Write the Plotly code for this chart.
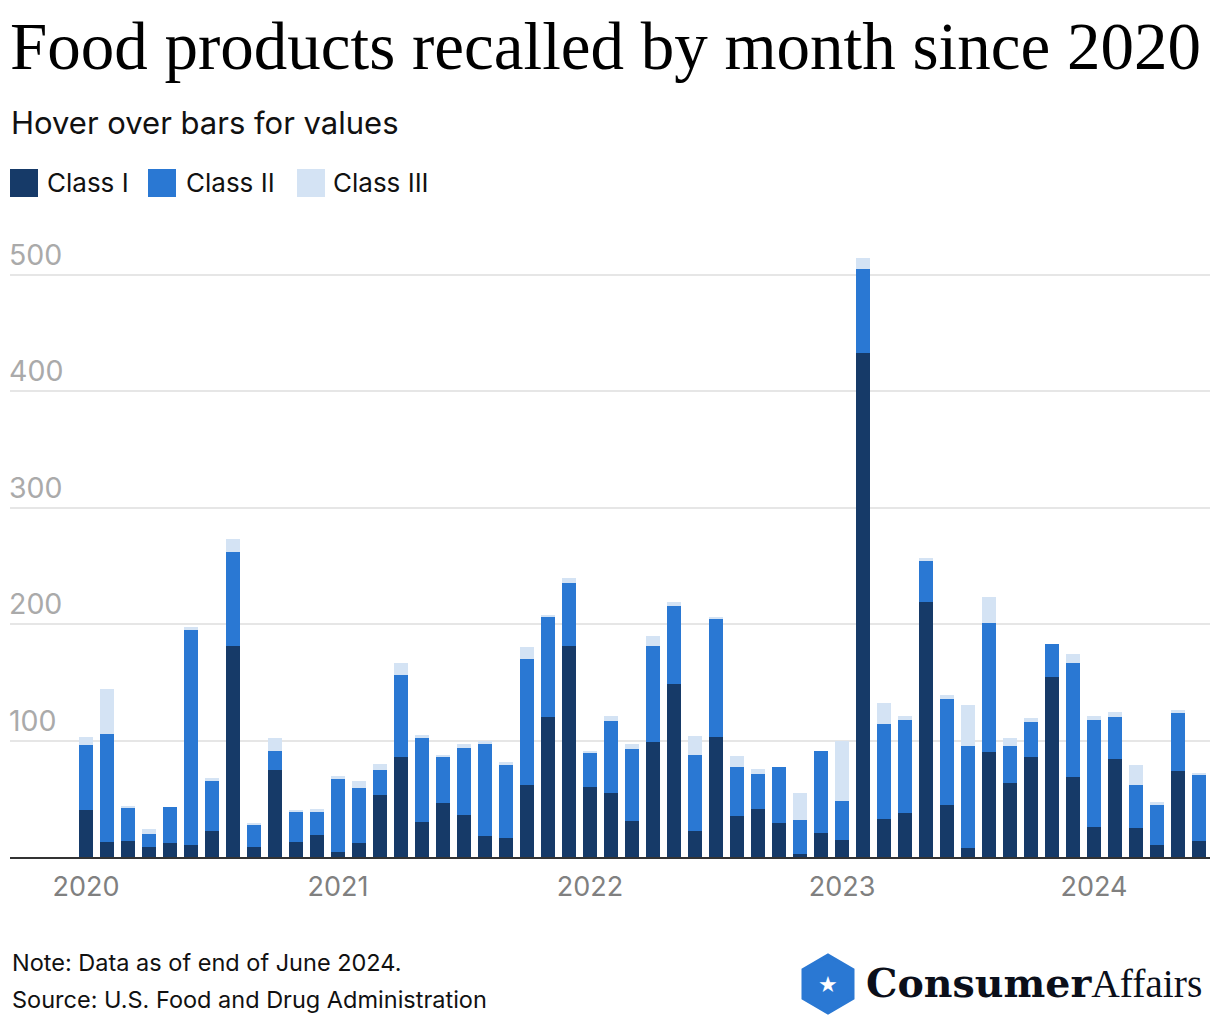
import plotly.graph_objects as go

# ---- data ----
years = ["2020", "2021", "2022", "2023", "2024"]
month_names = ["01", "02", "03", "04", "05", "06", "07", "08", "09", "10", "11", "12"]
months = [f"{y}-{m}" for y in years for m in month_names][:54]

class_1 = [40, 13, 14, 9, 12, 10, 22, 181, 9, 75, 13, 19,
           4, 12, 53, 86, 30, 46, 36, 18, 16, 62, 120, 181,
           60, 55, 31, 99, 149, 22, 103, 35, 41, 29, 3, 21,
           15, 433, 33, 38, 219, 45, 8, 90, 64, 86, 155, 69,
           26, 84, 25, 10, 74, 14]
class_2 = [56, 93, 28, 11, 31, 185, 43, 81, 19, 16, 26, 20,
           63, 47, 22, 70, 72, 40, 58, 79, 63, 108, 86, 54,
           29, 62, 62, 82, 67, 66, 102, 42, 30, 48, 29, 70,
           33, 72, 81, 80, 35, 91, 87, 111, 31, 30, 28, 98,
           92, 36, 37, 35, 50, 57]
class_3 = [7, 38, 2, 4, 0, 3, 3, 11, 1, 11, 1, 2,
           3, 6, 5, 11, 3, 1, 3, 3, 3, 10, 2, 5,
           2, 4, 4, 9, 3, 16, 1, 10, 5, 0, 23, 0,
           52, 10, 18, 3, 3, 3, 36, 22, 7, 3, 0, 7,
           3, 5, 17, 2, 2, 1]

series_names = ["Class I", "Class II", "Class III"]
colors = ["#163a68", "#2a78d3", "#d4e3f4"]
y_ticks = [100, 200, 300, 400, 500]
x_tickvals = ["2020-01", "2021-01", "2022-01", "2023-01", "2024-01"]

# ---- layout geometry ----
# page body has an 8px margin, so the figure is offset by 8px
OFF = 8
W, H = 1220 - OFF, 1024 - OFF
PL, PR, PT, PB = 10, 1210, 215, 857   # plot area in screen pixels
L, R, T, B = PL - OFF, (W + OFF) - PR, PT - OFF, (H + OFF) - PB
PW = PR - PL
PH = PB - PT


def px(x):
    return (x - PL) / PW


def py(y):
    return (PB - y) / PH


fig = go.Figure()
for name, vals, col in zip(series_names, [class_1, class_2, class_3], colors):
    fig.add_trace(go.Bar(
        x=months, y=vals, name=name, marker=dict(color=col, line=dict(width=0)),
        hovertemplate="%{x}<br>" + name + ": %{y}<extra></extra>",
    ))

SANS = "Inter, Roboto, sans-serif"
SERIF = "Liberation Serif, serif"

fig.update_layout(
    width=W, height=H,
    margin=dict(l=L, r=R, t=T, b=B, pad=0),
    barmode="stack", bargap=0.33,
    showlegend=False,
    plot_bgcolor="white", paper_bgcolor="white",
    font=dict(family=SANS, color="#111111"),
    xaxis=dict(
        type="category", range=[-3.62, 53.52],
        tickmode="array", tickvals=x_tickvals, ticktext=years,
        showgrid=False, ticks="", showline=True, linecolor="#333333", linewidth=2,
        tickfont=dict(size=27, color="#808080", family=SANS),
        ticklabelstandoff=5,
    ),
    yaxis=dict(
        range=[0, (PB - PT) / 1.164], tickmode="array", tickvals=y_ticks,
        showgrid=True, gridcolor="#e6e6e6", gridwidth=2,
        zeroline=False, ticks="", showline=False,
        ticklabelposition="inside top",
        ticklabelstandoff=-4,
        tickfont=dict(size=28.5, color="#aaaaaa", family=SANS),
    ),
)


def text(t, x, y, size, family=SANS, color="#111111", xanchor="left"):
    return dict(text=t, x=px(x), y=py(y), xref="paper", yref="paper",
                xanchor=xanchor, yanchor="middle", showarrow=False,
                font=dict(family=family, size=size, color=color))


ann = []
ann.append(text("Food products recalled by month since 2020", 8, 46, 67, SERIF, "#000000"))
ann.append(text("Hover over bars for values", 9, 123, 31))

legend_items = [(10, 45, "Class I"), (148, 184, "Class II"), (297, 331, "Class III")]
shapes = []
for (sx, tx, label), col in zip(legend_items, colors):
    shapes.append(dict(type="rect", xref="paper", yref="paper",
                       x0=px(sx), x1=px(sx + 28), y0=py(197), y1=py(169),
                       fillcolor=col, line=dict(width=0)))
    ann.append(text(label, tx, 182, 26))

ann.append(text("Note: Data as of end of June 2024.", 10, 962, 23.5))
ann.append(text("Source: U.S. Food and Drug Administration", 10, 999, 23.5))

# logo
cx, cy = 828, 984
hx, hy = 25, 29
verts = [(cx, cy - hy), (cx + hx, cy - hy / 2), (cx + hx, cy + hy / 2),
         (cx, cy + hy), (cx - hx, cy + hy / 2), (cx - hx, cy - hy / 2)]
path = "M " + " L ".join(f"{px(vx):.5f},{py(vy):.5f}" for vx, vy in verts) + " Z"
shapes.append(dict(type="path", xref="paper", yref="paper", path=path,
                   fillcolor="#2a78d3", line=dict(color="#2a78d3", width=3)))
ann.append(text("★", cx, cy, 22, "DejaVu Sans", "white", "center"))
ann.append(text("<span style='font-family:DejaVu Serif'><b>Consumer</b></span>Affairs",
                864, 983, 39.5, SERIF, "#0b0f1a"))

fig.update_layout(annotations=ann, shapes=shapes)
fig.write_html("out.html")
